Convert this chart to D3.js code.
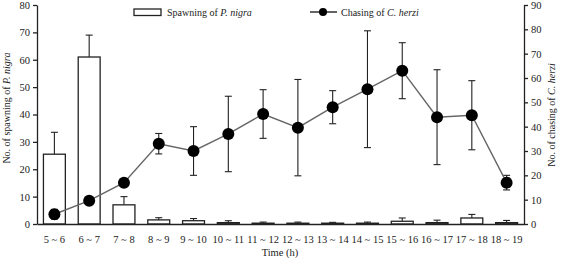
<html>
<head>
  <script src="https://d3js.org/d3.v7.min.js"></script>
</head>
<style>
  body { margin: 0; background: #fff; }
  svg text { font-family: "Liberation Serif", "Times New Roman", serif; fill: #222; }
</style>
<body>
<svg width="563" height="265"></svg>
<script>
  // time slots
  let categories = ["5 ~ 6", "6 ~ 7", "7 ~ 8", "8 ~ 9", "9 ~ 10", "10 ~ 11", "11 ~ 12",
    "12 ~ 13", "13 ~ 14", "14 ~ 15", "15 ~ 16", "16 ~ 17", "17 ~ 18", "18 ~ 19"];

  // spawning of P. nigra (left axis)
  let spawning = [25.5, 61, 7, 1.5, 1.2, 0.5, 0.3, 0.3, 0.3, 0.3, 1, 0.5, 2.2, 0.5];
  let spawningErr = [8, 8, 3, 0.8, 0.8, 0.7, 0.4, 0.4, 0.3, 0.4, 1.2, 0.9, 1.3, 0.8];

  // chasing of C. herzi (right axis)
  let chasing = [4, 9.6, 17, 33, 30, 37, 45.2, 39.6, 48, 55.4, 63, 43.9, 44.7, 17];
  let chasingErr = [2, 1.5, 1.5, 4.2, 10, 15.5, 10, 19.8, 6.8, 24, 11.5, 19.5, 14.2, 3];

  let leftTicks = [0, 10, 20, 30, 40, 50, 60, 70, 80];
  let rightTicks = [0, 10, 20, 30, 40, 50, 60, 70, 80, 90];

  let svg = d3.select("svg"),
      mLeft = 37, mRight = 524, mTop = 5, mBottom = 224;

  let x = d3.scaleBand().domain(categories).range([mLeft, mRight]).padding(0);
  let bw = x.bandwidth() * 0.63;
  let cx = d => x(d) + x.bandwidth() / 2;

  let yL = d3.scaleLinear().domain([0, 80]).range([mBottom, mTop]);
  let yR = d3.scaleLinear().domain([0, 90]).range([mBottom, mTop]);

  // bars
  let g = svg.append("g");
  categories.forEach(function (c, i) {
    g.append("line")
        .attr("x1", cx(c)).attr("x2", cx(c))
        .attr("y1", yL(spawning[i])).attr("y2", yL(spawning[i] + spawningErr[i]))
        .attr("stroke", "#222").attr("stroke-width", 1.1);
    g.append("line")
        .attr("x1", cx(c) - 3.5).attr("x2", cx(c) + 3.5)
        .attr("y1", yL(spawning[i] + spawningErr[i])).attr("y2", yL(spawning[i] + spawningErr[i]))
        .attr("stroke", "#222").attr("stroke-width", 1.1);
    g.append("rect")
        .attr("x", cx(c) - bw / 2)
        .attr("y", yL(spawning[i]))
        .attr("width", bw)
        .attr("height", mBottom - yL(spawning[i]))
        .attr("fill", "#fff")
        .attr("stroke", "#222")
        .attr("stroke-width", 1.3);
  });

  // chasing error bars
  categories.forEach(function (c, i) {
    let hi = yR(chasing[i] + chasingErr[i]), lo = yR(chasing[i] - chasingErr[i]);
    g.append("line").attr("x1", cx(c)).attr("x2", cx(c)).attr("y1", hi).attr("y2", lo)
        .attr("stroke", "#222").attr("stroke-width", 1.1);
    [hi, lo].forEach(function (yy) {
      g.append("line").attr("x1", cx(c) - 3.5).attr("x2", cx(c) + 3.5)
          .attr("y1", yy).attr("y2", yy)
          .attr("stroke", "#222").attr("stroke-width", 1.1);
    });
  });

  let line = d3.line()
      .x((d, i) => cx(categories[i]))
      .y(d => yR(d));

  g.append("path")
      .attr("d", line(chasing))
      .attr("fill", "none")
      .attr("stroke", "#666")
      .attr("stroke-width", 1.4);

  g.selectAll("circle.pt")
      .data(chasing)
      .enter()
      .append("circle")
      .attr("class", "pt")
      .attr("cx", (d, i) => cx(categories[i]))
      .attr("cy", d => yR(d))
      .attr("r", 6)
      .attr("fill", "#000");

  // axes
  let axL = svg.append("g").attr("transform", "translate(" + mLeft + ",0)")
      .call(d3.axisLeft(yL).tickValues(leftTicks).tickSize(4).tickSizeOuter(0).tickPadding(3));
  let axR = svg.append("g").attr("transform", "translate(" + mRight + ",0)")
      .call(d3.axisRight(yR).tickValues(rightTicks).tickSize(4).tickSizeOuter(0).tickPadding(3));
  let axB = svg.append("g").attr("transform", "translate(0," + mBottom + ")")
      .call(d3.axisBottom(x).tickSize(0).tickSizeOuter(0).tickPadding(12));

  [axL, axR, axB].forEach(function (a) {
    a.selectAll("path, line").attr("stroke", "#222").attr("stroke-width", 1.3);
    a.selectAll("text").style("font-family", "Liberation Serif").style("font-size", "10.5px").attr("fill", "#333");
  });

  // axis titles
  svg.append("text")
      .attr("transform", "translate(10,108) rotate(-90)")
      .attr("text-anchor", "middle")
      .style("font-size", "10px")
      .html('No. of spawning of <tspan font-style="italic">P. nigra</tspan>');

  svg.append("text")
      .attr("transform", "translate(555,115) rotate(-90)")
      .attr("text-anchor", "middle")
      .style("font-size", "10px")
      .html('No. of chasing of <tspan font-style="italic">C. herzi</tspan>');

  svg.append("text")
      .attr("x", 280).attr("y", 256)
      .attr("text-anchor", "middle")
      .style("font-size", "10.5px")
      .text("Time (h)");

  // legend
  svg.append("rect")
      .attr("x", 134).attr("y", 9).attr("width", 27).attr("height", 6.5)
      .attr("fill", "#fff").attr("stroke", "#222").attr("stroke-width", 1.3);
  svg.append("text")
      .attr("x", 167).attr("y", 15.5)
      .style("font-size", "10px")
      .html('Spawning of <tspan font-style="italic">P. nigra</tspan>');

  svg.append("line")
      .attr("x1", 310).attr("x2", 337).attr("y1", 12).attr("y2", 12)
      .attr("stroke", "#222").attr("stroke-width", 1.4);
  svg.append("circle")
      .attr("cx", 323).attr("cy", 12).attr("r", 4).attr("fill", "#000");
  svg.append("text")
      .attr("x", 341).attr("y", 15.5)
      .style("font-size", "10px")
      .html('Chasing of <tspan font-style="italic">C. herzi</tspan>');
</script>
</body>
</html>
